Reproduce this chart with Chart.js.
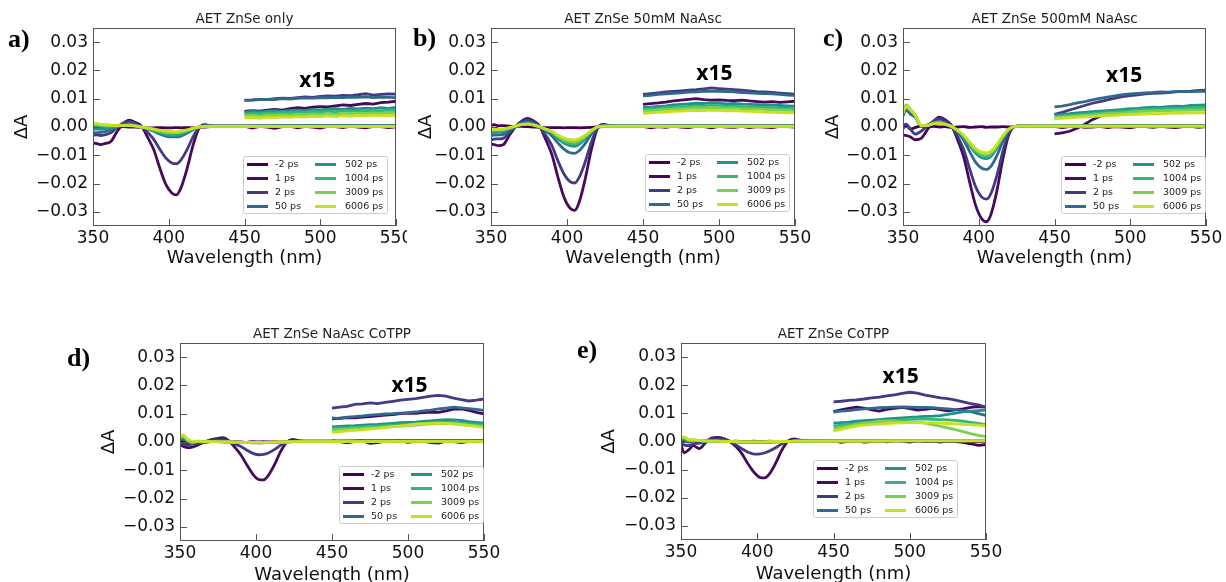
<!DOCTYPE html>
<html>
<head>
<meta charset="utf-8">
<script src="https://cdn.jsdelivr.net/npm/chart.js@4.4.1/dist/chart.umd.min.js"></script>
<style>
body { margin: 0; width: 1226px; height: 582px; overflow: hidden; background: #fff; position: relative; }
canvas { position: absolute; background: #fff; }
.tag { position: absolute; font: bold 26px 'Liberation Serif'; line-height: 1; color: #000; }
</style>
</head>
<body>
<canvas id="ca" width="416" height="280" style="left:0;top:0"></canvas>
<canvas id="cb" width="408" height="280" style="left:407px;top:0"></canvas>
<canvas id="cc" width="414" height="280" style="left:812px;top:0"></canvas>
<canvas id="cd" width="414" height="272" style="left:90px;top:315px"></canvas>
<canvas id="ce" width="416" height="272" style="left:590px;top:315px"></canvas>
<div class="tag" style="left:8px;top:26px">a)</div>
<div class="tag" style="left:413px;top:25px">b)</div>
<div class="tag" style="left:823px;top:25px">c)</div>
<div class="tag" style="left:67px;top:345px">d)</div>
<div class="tag" style="left:577px;top:337px">e)</div>
<script>
// time delays and colours
const seriesLabels = ['-2 ps', '1 ps', '2 ps', '50 ps', '502 ps', '1004 ps', '3009 ps', '6006 ps'];
const seriesColors = ['#440154', '#450a5c', '#443983', '#31688e', '#21918c', '#35b779', '#7ad151', '#c8e020'];

// wavelength grids (nm)
const wlMain = [350, 352, 355, 358, 362, 366, 370, 374, 378, 382, 386, 390, 394, 398, 402, 405, 408, 412, 416, 420, 424, 428, 435, 450, 500, 550];
const wlX15 = [450, 455, 460, 465, 470, 475, 480, 485, 490, 495, 500, 505, 510, 515, 520, 525, 530, 535, 540, 545, 550];
const xTicks = [350, 400, 450, 500, 550];
const yTicks = [-0.03, -0.02, -0.01, 0, 0.01, 0.02, 0.03];

// a) AET ZnSe only
const aMain = [
  [0.0002,0.0003,0.0001,0.0002,0.0001,0.0000,0.0001,0.0000,0.0000,-0.0001,-0.0003,-0.0003,-0.0002,-0.0003,-0.0003,-0.0002,-0.0003,-0.0002,-0.0002,-0.0001,0.0000,0.0001,0.0002,0.0002,0.0003,0.0003],
  [-0.0056,-0.0058,-0.0062,-0.0058,-0.005,-0.0015,0.0012,0.0024,0.0016,0.0003,-0.0036,-0.0079,-0.0144,-0.0202,-0.0233,-0.024,-0.0216,-0.0149,-0.0065,-0.0005,0.0008,0.0004,0.0003,0.0003,0.0004,0.0004],
  [-0.003,-0.0028,-0.003,-0.0027,-0.002,0.0000,0.0014,0.002,0.0012,0.0001,-0.0019,-0.0043,-0.0078,-0.0109,-0.0127,-0.013,-0.0117,-0.0081,-0.0035,-0.0003,0.0006,0.0004,0.0003,0.0003,0.0004,0.0004],
  [-0.0021,-0.002,-0.0019,-0.0016,-0.001,0.0001,0.0008,0.001,0.0006,0.0000,-0.0007,-0.0015,-0.0025,-0.0032,-0.0035,-0.0035,-0.0032,-0.0022,-0.001,0.0000,0.0004,0.0003,0.0003,0.0003,0.0004,0.0004],
  [-0.0008,-0.0007,-0.0008,-0.0006,-0.0003,0.0002,0.0007,0.0009,0.0005,0.0000,-0.0006,-0.0013,-0.0021,-0.0027,-0.003,-0.003,-0.0027,-0.0019,-0.0008,0.0000,0.0003,0.0003,0.0003,0.0003,0.0003,0.0003],
  [0.0003,0.0004,0.0002,0.0002,0.0003,0.0004,0.0006,0.0007,0.0004,0.0000,-0.0005,-0.0011,-0.0018,-0.0023,-0.0025,-0.0025,-0.0022,-0.0015,-0.0007,0.0000,0.0003,0.0003,0.0003,0.0003,0.0003,0.0003],
  [0.001,0.0011,0.0008,0.0007,0.0006,0.0005,0.0006,0.0006,0.0004,0.0000,-0.0004,-0.0009,-0.0014,-0.0018,-0.002,-0.002,-0.0018,-0.0012,-0.0005,0.0000,0.0002,0.0002,0.0002,0.0002,0.0002,0.0002],
  [0.0011,0.0012,0.0009,0.0008,0.0006,0.0005,0.0005,0.0005,0.0003,0.0000,-0.0003,-0.0007,-0.0011,-0.0014,-0.0016,-0.0016,-0.0014,-0.001,-0.0004,0.0000,0.0002,0.0002,0.0002,0.0002,0.0002,0.0002]
];
const aX15 = [
  [0.0003,-0.0004,0.0002,0.0000,-0.0005,0.0001,0.0003,-0.0003,0.0002,0.0000,-0.0004,0.0002,0.0001,-0.0002,0.0003,0.0000,-0.0003,0.0002,0.0001,-0.0002,0.0001],
  [0.0055,0.0058,0.0056,0.006,0.0062,0.006,0.0065,0.0068,0.0066,0.007,0.0072,0.0071,0.0075,0.0078,0.0076,0.008,0.0083,0.0081,0.0086,0.0088,0.0091],
  [0.0095,0.0096,0.0098,0.0097,0.01,0.0102,0.0101,0.0104,0.0106,0.0105,0.0108,0.011,0.0109,0.0112,0.0111,0.0114,0.0118,0.0113,0.0115,0.0117,0.0116],
  [0.0094,0.0095,0.0097,0.0098,0.0097,0.01,0.0099,0.0101,0.0103,0.0102,0.0104,0.0103,0.0105,0.0104,0.0106,0.0105,0.0107,0.0104,0.0106,0.0105,0.0104],
  [0.0052,0.0055,0.0053,0.0056,0.0058,0.0055,0.0059,0.006,0.0058,0.0062,0.006,0.0063,0.0065,0.0062,0.0066,0.0064,0.0067,0.0065,0.0068,0.0066,0.0069],
  [0.0045,0.0048,0.0046,0.005,0.0049,0.0052,0.005,0.0053,0.0051,0.0055,0.0053,0.0056,0.0054,0.0057,0.0055,0.0058,0.0056,0.0059,0.0057,0.006,0.0058],
  [0.004,0.0042,0.0038,0.0043,0.0041,0.0044,0.0042,0.0045,0.0043,0.0046,0.0044,0.0047,0.0045,0.0048,0.0046,0.0049,0.0047,0.005,0.0048,0.0051,0.0049],
  [0.0032,0.0034,0.0031,0.0035,0.0033,0.0036,0.0034,0.0037,0.0035,0.0038,0.0036,0.0039,0.0037,0.004,0.0038,0.0041,0.0039,0.0042,0.004,0.0041,0.0039]
];

// b) AET ZnSe 50mM NaAsc
const bMain = [
  [0.0006,0.0008,0.0004,0.0005,0.0003,0.0002,0.0002,0.0001,0.0000,-0.0001,-0.0002,-0.0002,-0.0002,-0.0003,-0.0002,-0.0002,-0.0003,-0.0002,-0.0001,0.0000,0.0001,0.0001,0.0002,0.0002,0.0003,0.0003],
  [-0.006,-0.0062,-0.0066,-0.0063,-0.003,0.0000,0.002,0.003,0.0021,0.0003,-0.0044,-0.0097,-0.0177,-0.0248,-0.0287,-0.0295,-0.0266,-0.0183,-0.008,-0.0006,0.0009,0.0005,0.0003,0.0003,0.0004,0.0004],
  [-0.0045,-0.0043,-0.0042,-0.004,-0.002,0.0001,0.0017,0.0025,0.0017,0.0002,-0.0029,-0.0065,-0.0119,-0.0166,-0.0193,-0.0198,-0.0178,-0.0123,-0.0054,-0.0004,0.0007,0.0004,0.0003,0.0003,0.0004,0.0004],
  [-0.003,-0.0029,-0.0028,-0.0026,-0.0012,0.0002,0.0012,0.0018,0.0012,0.0001,-0.0014,-0.0031,-0.0056,-0.0078,-0.0091,-0.0093,-0.0084,-0.0058,-0.0025,-0.0001,0.0004,0.0003,0.0003,0.0003,0.0004,0.0004],
  [-0.002,-0.0019,-0.0018,-0.0016,-0.0007,0.0002,0.001,0.0013,0.0009,0.0001,-0.001,-0.0022,-0.0041,-0.0057,-0.0066,-0.0068,-0.0061,-0.0042,-0.0018,0.0000,0.0003,0.0003,0.0003,0.0003,0.0003,0.0003],
  [-0.0015,-0.0013,-0.0013,-0.0011,-0.0005,0.0002,0.0009,0.0012,0.0008,0.0001,-0.0009,-0.002,-0.0036,-0.005,-0.0058,-0.006,-0.0054,-0.0037,-0.0016,0.0000,0.0003,0.0003,0.0003,0.0003,0.0003,0.0003],
  [-0.0012,-0.001,-0.001,-0.0009,-0.0003,0.0003,0.0008,0.0011,0.0007,0.0001,-0.0008,-0.0017,-0.0032,-0.0045,-0.0051,-0.0053,-0.0048,-0.0033,-0.0014,0.0000,0.0003,0.0003,0.0003,0.0003,0.0003,0.0003],
  [-0.001,-0.0008,-0.0008,-0.0007,-0.0002,0.0003,0.0008,0.001,0.0007,0.0001,-0.0007,-0.0015,-0.0028,-0.0039,-0.0045,-0.0046,-0.0041,-0.0029,-0.0012,0.0000,0.0002,0.0002,0.0002,0.0002,0.0002,0.0002]
];
const bX15 = [
  [0.0002,-0.0003,0.0001,-0.0001,0.0003,0.0000,-0.0002,0.0002,0.0001,-0.0003,0.0002,0.0000,-0.0001,0.0002,-0.0002,0.0001,0.0000,-0.0002,0.0002,0.0001,0.0000],
  [0.008,0.0083,0.0085,0.0088,0.0092,0.0095,0.0098,0.01,0.0097,0.0095,0.0096,0.0094,0.0093,0.0095,0.0092,0.009,0.0088,0.009,0.0087,0.0089,0.0091],
  [0.0115,0.0118,0.0121,0.0124,0.0126,0.0128,0.013,0.0132,0.0135,0.0138,0.0136,0.0134,0.0132,0.013,0.0128,0.0125,0.0124,0.0122,0.012,0.0118,0.0116],
  [0.011,0.0112,0.0115,0.0117,0.0119,0.0121,0.0123,0.0124,0.0126,0.0127,0.0126,0.0125,0.0124,0.0122,0.0121,0.0119,0.0118,0.0117,0.0115,0.0113,0.0112],
  [0.0068,0.007,0.0073,0.0075,0.0078,0.008,0.0082,0.0084,0.0083,0.0085,0.0084,0.0082,0.0083,0.0081,0.008,0.0079,0.0078,0.0077,0.0076,0.0075,0.0074],
  [0.0062,0.0064,0.0066,0.0068,0.007,0.0072,0.0073,0.0075,0.0074,0.0076,0.0075,0.0073,0.0074,0.0072,0.0071,0.007,0.0069,0.0068,0.0067,0.0066,0.0065],
  [0.0056,0.0058,0.006,0.0062,0.0063,0.0065,0.0066,0.0068,0.0067,0.0069,0.0068,0.0066,0.0067,0.0065,0.0064,0.0063,0.0062,0.0061,0.006,0.0059,0.0058],
  [0.0048,0.005,0.0052,0.0053,0.0055,0.0056,0.0058,0.0059,0.0058,0.006,0.0059,0.0057,0.0058,0.0056,0.0055,0.0054,0.0053,0.0052,0.0051,0.005,0.005]
];

// c) AET ZnSe 500mM NaAsc
const cMain = [
  [-0.0005,0.0005,-0.0008,-0.0002,0.0003,-0.0001,0.0002,0.0000,0.0001,-0.0001,0.0000,0.0001,-0.0001,0.0000,0.0001,-0.0001,0.0000,0.0000,0.0001,0.0000,0.0001,0.0001,0.0002,0.0002,0.0003,0.0003],
  [-0.0028,-0.003,-0.0035,-0.0045,-0.004,-0.001,0.002,0.0035,0.0025,0.0005,-0.0045,-0.0105,-0.0195,-0.0278,-0.0325,-0.0335,-0.031,-0.0225,-0.011,-0.0025,0.0002,0.0004,0.0003,0.0003,0.0004,0.0004],
  [0.0005,0.001,-0.0008,-0.0025,-0.0015,0.0005,0.002,0.003,0.002,0.0005,-0.0033,-0.0079,-0.0148,-0.0212,-0.0248,-0.0255,-0.0236,-0.0171,-0.0084,-0.0019,0.0002,0.0004,0.0003,0.0003,0.0004,0.0004],
  [0.004,0.006,0.0045,0.0035,0.0005,0.0007,0.0015,0.002,0.0012,0.0002,-0.0019,-0.0046,-0.0087,-0.0125,-0.0146,-0.015,-0.0139,-0.0101,-0.005,-0.0011,0.0002,0.0003,0.0003,0.0003,0.0004,0.0004],
  [0.0048,0.0072,0.0058,0.004,0.0005,0.0006,0.0013,0.0016,0.001,0.0002,-0.0014,-0.0035,-0.0065,-0.0093,-0.0109,-0.0112,-0.0104,-0.0075,-0.0037,-0.0008,0.0002,0.0003,0.0003,0.0003,0.0003,0.0003],
  [0.005,0.0075,0.006,0.0042,0.0005,0.0005,0.0012,0.0015,0.001,0.0002,-0.0013,-0.0033,-0.0061,-0.0087,-0.0102,-0.0105,-0.0097,-0.007,-0.0035,-0.0008,0.0002,0.0003,0.0003,0.0003,0.0003,0.0003],
  [0.0052,0.0078,0.0062,0.0043,0.0006,0.0005,0.0012,0.0015,0.001,0.0002,-0.0012,-0.003,-0.0057,-0.0081,-0.0095,-0.0098,-0.0091,-0.0066,-0.0032,-0.0007,0.0002,0.0003,0.0003,0.0003,0.0003,0.0003],
  [0.0048,0.0074,0.006,0.0042,0.0006,0.0005,0.0012,0.0014,0.0009,0.0002,-0.0011,-0.0028,-0.0053,-0.0076,-0.0089,-0.0092,-0.0085,-0.0062,-0.003,-0.0007,0.0002,0.0003,0.0003,0.0003,0.0003,0.0003]
];
const cX15 = [
  [0.0002,-0.0002,0.0001,0.0003,-0.0001,0.0000,0.0002,-0.0002,0.0001,0.0000,-0.0003,0.0002,0.0001,-0.0001,0.0002,0.0000,-0.0002,0.0001,0.0002,-0.0001,0.0001],
  [-0.0024,-0.0021,-0.0015,-0.0004,0.001,0.0026,0.0038,0.0045,0.005,0.0053,0.0056,0.0058,0.006,0.0061,0.0062,0.0063,0.0064,0.0065,0.0066,0.0065,0.0066],
  [0.0045,0.0052,0.006,0.0068,0.0076,0.0084,0.009,0.0096,0.0102,0.0107,0.0111,0.0114,0.0117,0.0119,0.012,0.0122,0.0124,0.0126,0.0127,0.0129,0.013],
  [0.0071,0.0074,0.0079,0.0085,0.009,0.0096,0.0101,0.0106,0.011,0.0114,0.0117,0.0119,0.0121,0.0122,0.0124,0.0123,0.0125,0.0126,0.0125,0.0127,0.0126],
  [0.0042,0.0045,0.0047,0.005,0.0052,0.0054,0.0056,0.0058,0.006,0.0062,0.0065,0.0066,0.0068,0.007,0.0069,0.0072,0.0074,0.0073,0.0076,0.0077,0.0078],
  [0.0036,0.0038,0.0041,0.0043,0.0045,0.0047,0.005,0.0052,0.0054,0.0056,0.0058,0.006,0.0062,0.0063,0.0064,0.0066,0.0065,0.0067,0.0068,0.0069,0.0069],
  [0.0033,0.0035,0.0037,0.0039,0.0041,0.0043,0.0045,0.0047,0.0049,0.005,0.0052,0.0054,0.0055,0.0056,0.0057,0.0058,0.0059,0.0059,0.006,0.006,0.0061],
  [0.003,0.0031,0.0033,0.0034,0.0036,0.0037,0.0039,0.004,0.0041,0.0043,0.0044,0.0045,0.0046,0.0047,0.0047,0.0048,0.0049,0.0049,0.005,0.005,0.005]
];

// d) AET ZnSe NaAsc CoTPP
const dMain = [
  [0.0003,0.0001,-0.0002,0.0001,0.0002,-0.0001,0.0001,0.0002,0.0001,0.0000,0.0001,0.0000,-0.0001,0.0001,0.0000,0.0001,0.0000,0.0001,0.0000,0.0001,0.0001,0.0001,0.0001,0.0002,0.0002,0.0002],
  [-0.001,-0.0015,-0.002,-0.0018,-0.001,0.0000,0.0008,0.0012,0.0015,0.0005,-0.0018,-0.0045,-0.0081,-0.0114,-0.0133,-0.0134,-0.0119,-0.0082,-0.0036,-0.0002,0.0009,0.0005,0.0003,0.0003,0.0004,0.0004],
  [-0.0005,-0.0008,-0.001,-0.0008,-0.0004,0.0001,0.0005,0.0007,0.0008,0.0002,-0.0007,-0.0016,-0.0029,-0.004,-0.0045,-0.0044,-0.0039,-0.0027,-0.0012,0.0000,0.0004,0.0003,0.0003,0.0003,0.0004,0.0004],
  [0.0008,0.0012,0.0004,0.0002,0.0001,0.0001,0.0002,0.0002,0.0001,0.0000,-0.0001,-0.0002,-0.0002,-0.0003,-0.0003,-0.0003,-0.0002,-0.0002,-0.0001,0.0000,0.0001,0.0001,0.0002,0.0002,0.0003,0.0003],
  [0.0012,0.0015,0.0003,-0.0003,0.0001,0.0000,0.0001,0.0002,0.0001,0.0000,-0.0001,-0.0002,-0.0002,-0.0002,-0.0003,-0.0002,-0.0002,-0.0001,-0.0001,0.0000,0.0001,0.0001,0.0002,0.0002,0.0003,0.0003],
  [0.0015,0.0018,0.0005,-0.0004,0.0002,0.0001,0.0001,0.0001,0.0001,0.0000,-0.0001,-0.0001,-0.0002,-0.0002,-0.0002,-0.0002,-0.0002,-0.0001,-0.0001,0.0000,0.0001,0.0001,0.0002,0.0002,0.0002,0.0002],
  [0.0018,0.0022,0.0008,0.0001,0.0003,0.0001,0.0001,0.0001,0.0000,0.0000,-0.0001,-0.0001,-0.0001,-0.0002,-0.0002,-0.0002,-0.0001,-0.0001,0.0000,0.0000,0.0001,0.0001,0.0001,0.0002,0.0002,0.0002],
  [0.0016,0.0025,0.0009,0.0002,0.0003,0.0001,0.0001,0.0001,0.0000,0.0000,0.0000,-0.0001,-0.0001,-0.0001,-0.0001,-0.0001,-0.0001,0.0000,0.0000,0.0000,0.0001,0.0001,0.0001,0.0001,0.0002,0.0002]
];
const dX15 = [
  [0.0004,0.0001,-0.0003,0.0002,0.0004,-0.0005,-0.0002,0.0003,0.0001,0.0004,-0.0001,0.0002,0.0003,-0.0002,-0.0004,0.0003,0.0001,-0.0002,0.0002,0.0003,0.0001],
  [0.0082,0.0084,0.0086,0.0085,0.0088,0.009,0.0092,0.0095,0.0097,0.01,0.0102,0.0101,0.0104,0.0106,0.0105,0.011,0.0116,0.0117,0.0112,0.0105,0.0099],
  [0.012,0.0123,0.0126,0.0133,0.0135,0.0138,0.0136,0.014,0.0144,0.0148,0.0151,0.0153,0.0158,0.0162,0.0165,0.0162,0.0155,0.015,0.0145,0.0148,0.0152],
  [0.0085,0.0083,0.0088,0.009,0.0092,0.0095,0.0097,0.0099,0.01,0.0102,0.0104,0.0106,0.011,0.0113,0.0117,0.012,0.0123,0.0121,0.0118,0.0115,0.0112],
  [0.0053,0.0055,0.0057,0.0058,0.006,0.0061,0.0062,0.0064,0.0066,0.0068,0.0069,0.007,0.0073,0.0075,0.0077,0.0079,0.0078,0.0076,0.0072,0.0069,0.0067],
  [0.0047,0.0049,0.005,0.0052,0.0053,0.0055,0.0056,0.0058,0.006,0.0061,0.0063,0.0064,0.0066,0.0068,0.0069,0.007,0.0069,0.0067,0.0064,0.0062,0.006],
  [0.0042,0.0044,0.0045,0.0047,0.0048,0.005,0.0051,0.0053,0.0055,0.0056,0.0058,0.006,0.0062,0.0064,0.0065,0.0066,0.0064,0.0062,0.006,0.0057,0.0055],
  [0.0034,0.0036,0.0039,0.0041,0.0043,0.0046,0.0048,0.0051,0.0054,0.0057,0.006,0.0063,0.0065,0.0066,0.0067,0.0066,0.0064,0.0061,0.0058,0.0055,0.0052]
];

// e) AET ZnSe CoTPP
const eMain = [
  [0.0005,0.0002,-0.0001,0.0003,0.0000,0.0001,0.0002,0.0001,0.0000,0.0000,0.0001,0.0000,0.0000,0.0001,0.0000,0.0000,0.0001,0.0000,0.0000,0.0001,0.0001,0.0001,0.0001,0.0002,0.0002,-0.0001],
  [-0.001,-0.004,-0.003,-0.0015,-0.0025,-0.0005,0.0012,0.0015,0.001,0.0000,-0.0018,-0.0044,-0.008,-0.011,-0.0128,-0.0129,-0.0115,-0.0078,-0.0032,0.0000,0.0009,0.0005,0.0003,0.0003,0.0004,0.0004],
  [-0.0005,-0.0012,-0.0015,-0.0008,-0.0006,0.0002,0.0008,0.001,0.0007,0.0001,-0.0012,-0.0026,-0.0038,-0.0045,-0.0044,-0.004,-0.0034,-0.0022,-0.0009,0.0000,0.0004,0.0003,0.0003,0.0003,0.0004,0.0004],
  [0.0008,0.0005,-0.0002,0.0003,0.0002,0.0001,0.0002,0.0002,0.0001,0.0000,-0.0001,-0.0002,-0.0002,-0.0003,-0.0003,-0.0003,-0.0002,-0.0001,-0.0001,0.0000,0.0001,0.0001,0.0002,0.0002,0.0003,0.0003],
  [0.0012,0.0008,0.0002,0.0004,0.0002,0.0001,0.0001,0.0002,0.0001,0.0000,-0.0001,-0.0002,-0.0002,-0.0002,-0.0002,-0.0002,-0.0002,-0.0001,0.0000,0.0000,0.0001,0.0001,0.0002,0.0002,0.0003,0.0003],
  [0.0014,0.0012,0.0004,0.0005,0.0003,0.0001,0.0001,0.0001,0.0001,0.0000,-0.0001,-0.0001,-0.0002,-0.0002,-0.0002,-0.0002,-0.0001,-0.0001,0.0000,0.0000,0.0001,0.0001,0.0002,0.0002,0.0003,0.0003],
  [0.0015,0.0015,0.0006,0.0005,0.0004,0.0002,0.0001,0.0001,0.0000,0.0000,-0.0001,-0.0001,-0.0001,-0.0001,-0.0001,-0.0001,-0.0001,0.0000,0.0000,0.0000,0.0001,0.0001,0.0001,0.0002,0.0002,0.0002],
  [0.0012,0.0016,0.0007,0.0006,0.0004,0.0002,0.0001,0.0001,0.0000,0.0000,0.0000,-0.0001,-0.0001,-0.0001,-0.0001,-0.0001,0.0000,0.0000,0.0000,0.0000,0.0001,0.0001,0.0001,0.0001,0.0002,0.0002]
];
const eX15 = [
  [0.0003,-0.0003,0.0001,0.0003,-0.0002,0.0000,0.0002,-0.0001,0.0003,0.0001,-0.0002,0.0002,0.0000,0.0001,-0.0002,0.0001,0.0000,-0.0003,-0.0008,-0.0014,-0.0011],
  [0.0106,0.0112,0.0118,0.0122,0.0119,0.0112,0.0108,0.0114,0.0118,0.0121,0.0117,0.0112,0.0114,0.0118,0.0113,0.0109,0.0112,0.0116,0.0121,0.0124,0.0122],
  [0.0141,0.0143,0.0146,0.0148,0.0151,0.0155,0.0158,0.0162,0.0166,0.0171,0.0175,0.0172,0.0165,0.016,0.0155,0.0152,0.0147,0.0141,0.0135,0.013,0.0122],
  [0.0104,0.0108,0.011,0.0113,0.0116,0.0118,0.012,0.0121,0.0122,0.0123,0.0122,0.0121,0.0121,0.012,0.0118,0.0116,0.0113,0.011,0.0106,0.0099,0.0093],
  [0.0065,0.0067,0.0069,0.0072,0.0074,0.0076,0.0078,0.008,0.0082,0.0084,0.0086,0.0087,0.0089,0.009,0.0092,0.0096,0.0101,0.0105,0.0108,0.011,0.0112],
  [0.0055,0.0058,0.0061,0.0064,0.0066,0.0068,0.0071,0.0073,0.0075,0.0077,0.0079,0.008,0.008,0.0079,0.0078,0.0077,0.0075,0.0072,0.0068,0.0064,0.006],
  [0.0046,0.005,0.0055,0.006,0.0065,0.0068,0.0072,0.0073,0.0072,0.007,0.0069,0.0068,0.0065,0.006,0.0055,0.0048,0.0042,0.0035,0.0028,0.0022,0.0017],
  [0.0038,0.0043,0.0049,0.0055,0.0058,0.006,0.0062,0.0064,0.0065,0.0066,0.0067,0.0067,0.0066,0.0066,0.0065,0.0064,0.0063,0.0061,0.006,0.0058,0.0056]
];

// frame, inward ticks, title, "x15" note and the two-column legend
const panelDecor = {
  id: 'panelDecor',
  afterDraw(chart, args, opts) {
    const ctx = chart.ctx, ca = chart.chartArea;
    const xs = chart.scales.x, ys = chart.scales.y;
    ctx.save();
    ctx.strokeStyle = '#555';
    ctx.lineWidth = 1;
    ctx.strokeRect(ca.left + 0.5, ca.top + 0.5, ca.right - ca.left - 1, ca.bottom - ca.top - 1);
    ctx.beginPath();
    xs.ticks.forEach(t => {
      const px = Math.round(xs.getPixelForValue(t.value)) + 0.5;
      ctx.moveTo(px, ca.bottom);
      ctx.lineTo(px, ca.bottom - 7);
    });
    ys.ticks.forEach(t => {
      const py = Math.round(ys.getPixelForValue(t.value)) + 0.5;
      ctx.moveTo(ca.left, py);
      ctx.lineTo(ca.left + 7, py);
    });
    ctx.stroke();

    ctx.fillStyle = '#222';
    ctx.font = '13.5px "DejaVu Sans"';
    ctx.textAlign = 'center';
    ctx.textBaseline = 'middle';
    ctx.fillText(opts.title, (ca.left + ca.right) / 2, ca.top - 9);

    ctx.fillStyle = '#000';
    ctx.font = 'bold 21px "Open Sans"';
    ctx.fillText('x15', xs.getPixelForValue(opts.noteX), ys.getPixelForValue(opts.noteY));

    const bw = 144, bh = 57;
    const bx = ca.right - opts.legRight - bw, by = ca.bottom - opts.legBottom - bh;
    ctx.fillStyle = 'rgba(255,255,255,0.85)';
    ctx.strokeStyle = '#cccccc';
    ctx.beginPath();
    ctx.roundRect(bx + 0.5, by + 0.5, bw, bh, 2);
    ctx.fill();
    ctx.stroke();
    ctx.font = '9.5px "DejaVu Sans"';
    ctx.textAlign = 'left';
    seriesLabels.forEach((lab, i) => {
      const col = Math.floor(i / 4), row = i % 4;
      const ly = by + 8.5 + row * 14;
      const lx = bx + 4 + col * 68;
      ctx.strokeStyle = seriesColors[i];
      ctx.lineWidth = 3;
      ctx.beginPath();
      ctx.moveTo(lx, ly);
      ctx.lineTo(lx + 21, ly);
      ctx.stroke();
      ctx.fillStyle = '#222';
      ctx.fillText(lab, bx + 32 + col * 70, ly);
    });
    ctx.restore();
  }
};

function buildDatasets(main, x15) {
  const ds = [];
  seriesLabels.forEach((lab, i) => {
    ds.push({
      label: lab,
      data: wlMain.map((w, k) => ({x: w, y: main[i][k]})),
      borderColor: seriesColors[i],
      borderWidth: 2.8,
      pointRadius: 0,
      cubicInterpolationMode: 'monotone',
      order: 7 - i
    });
    ds.push({
      label: lab + ' x15',
      data: wlX15.map((w, k) => ({x: w, y: x15[i][k]})),
      borderColor: seriesColors[i],
      borderWidth: 2.8,
      pointRadius: 0,
      tension: 0,
      order: 7 - i
    });
  });
  return ds;
}

function fmtY(v) {
  if (Math.abs(v) < 1e-9) return '0.00';
  return (v < 0 ? '\u2212' : '') + Math.abs(v).toFixed(2);
}

function makePanel(id, main, x15, p) {
  new Chart(document.getElementById(id), {
    type: 'line',
    data: {datasets: buildDatasets(main, x15)},
    plugins: [panelDecor],
    options: {
      responsive: false,
      animation: false,
      events: [],
      layout: {padding: {left: 0, top: p.padTop, right: 20, bottom: p.padBottom}},
      scales: {
        x: {
          type: 'linear',
          min: 350,
          max: 550,
          afterBuildTicks: s => { s.ticks = xTicks.map(v => ({value: v})); },
          afterFit: s => { s.height = p.xH; },
          grid: {display: false, drawTicks: false, tickLength: 0},
          border: {display: false},
          ticks: {padding: 2, color: '#111', font: {family: 'DejaVu Sans', size: 17}, callback: v => String(v)},
          title: {display: true, text: 'Wavelength (nm)', color: '#111', font: {family: 'DejaVu Sans', size: 18}, padding: {top: 0, bottom: 1}}
        },
        y: {
          min: -0.035,
          max: 0.035,
          afterBuildTicks: s => { s.ticks = yTicks.map(v => ({value: v})); },
          afterFit: s => { s.width = p.yW; },
          grid: {display: false, drawTicks: false, tickLength: 0},
          border: {display: false},
          ticks: {padding: 5, color: '#111', font: {family: 'DejaVu Sans', size: 17}, callback: fmtY},
          title: {display: true, text: '\u0394A', color: '#111', font: {family: 'DejaVu Sans', size: 18}, padding: {top: p.yTitlePad, bottom: 0}}
        }
      },
      plugins: {
        legend: {display: false},
        tooltip: {enabled: false},
        panelDecor: {title: p.title, noteX: p.noteX, noteY: p.noteY, legRight: p.legRight, legBottom: p.legBottom}
      }
    }
  });
}

makePanel('ca', aMain, aX15, {title: 'AET ZnSe only', padTop: 28, padBottom: 10, xH: 44, yW: 93, yTitlePad: 12, noteX: 498, noteY: 0.0164, legRight: 9, legBottom: 13});
makePanel('cb', bMain, bX15, {title: 'AET ZnSe 50mM NaAsc', padTop: 28, padBottom: 10, xH: 44, yW: 84, yTitlePad: 9, noteX: 497, noteY: 0.0189, legRight: 6, legBottom: 15});
makePanel('cc', cMain, cX15, {title: 'AET ZnSe 500mM NaAsc', padTop: 28, padBottom: 10, xH: 44, yW: 91, yTitlePad: 11, noteX: 496, noteY: 0.0182, legRight: 1, legBottom: 13});
makePanel('cd', dMain, dX15, {title: 'AET ZnSe NaAsc CoTPP', padTop: 28, padBottom: 0, xH: 46, yW: 90, yTitlePad: 9, noteX: 501, noteY: 0.0199, legRight: 1, legBottom: 18});
makePanel('ce', eMain, eX15, {title: 'AET ZnSe CoTPP', padTop: 28, padBottom: 1, xH: 46, yW: 91, yTitlePad: 9, noteX: 494, noteY: 0.0229, legRight: 29, legBottom: 23});
</script>
</body>
</html>
